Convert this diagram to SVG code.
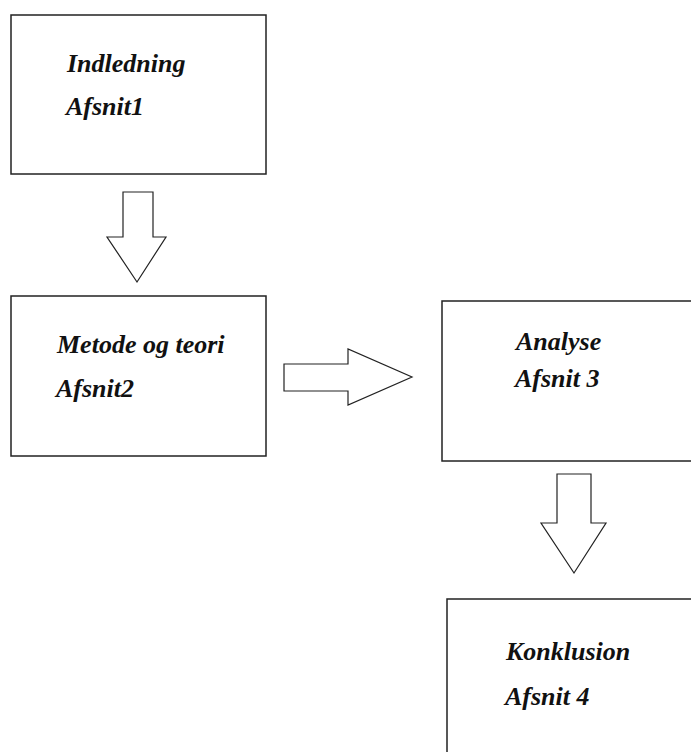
<svg xmlns="http://www.w3.org/2000/svg" width="691" height="752" viewBox="0 0 691 752">
<style>
.box{fill:#fff;stroke:#222;stroke-width:1.5}
.arr{fill:#fff;stroke:#222;stroke-width:1.2;stroke-linejoin:miter}
.t{font-family:"Liberation Serif","Times New Roman",serif;font-weight:bold;font-style:italic;font-size:26px;fill:#111}
</style>
<rect width="691" height="752" fill="#fff"/>
<g id="connectors">
<polygon class="arr" points="123,192 153,192 153,237 166,237 137,282 107,237 123,237"/>
<polygon class="arr" points="284,364 348,364 348,349 412,377 348,405 348,391 284,391"/>
<polygon class="arr" points="557,474 591,474 591,523 606,523 574,573 541,523 557,523"/>
</g>
<g id="indledning">
<rect class="box" x="11" y="15" width="255" height="159"/>
<text class="t" x="67" y="72">Indledning</text>
<text class="t" x="66" y="115">Afsnit1</text>
</g>
<g id="metode">
<rect class="box" x="11" y="296" width="255" height="160"/>
<text class="t" x="57" y="353">Metode og teori</text>
<text class="t" x="56" y="397">Afsnit2</text>
</g>
<g id="analyse">
<rect class="box" x="442" y="301" width="260" height="160"/>
<text class="t" x="516" y="350">Analyse</text>
<text class="t" x="515" y="387">Afsnit 3</text>
</g>
<g id="konklusion">
<rect class="box" x="447" y="599" width="260" height="170"/>
<text class="t" x="506" y="660">Konklusion</text>
<text class="t" x="505" y="705">Afsnit 4</text>
</g>
</svg>
